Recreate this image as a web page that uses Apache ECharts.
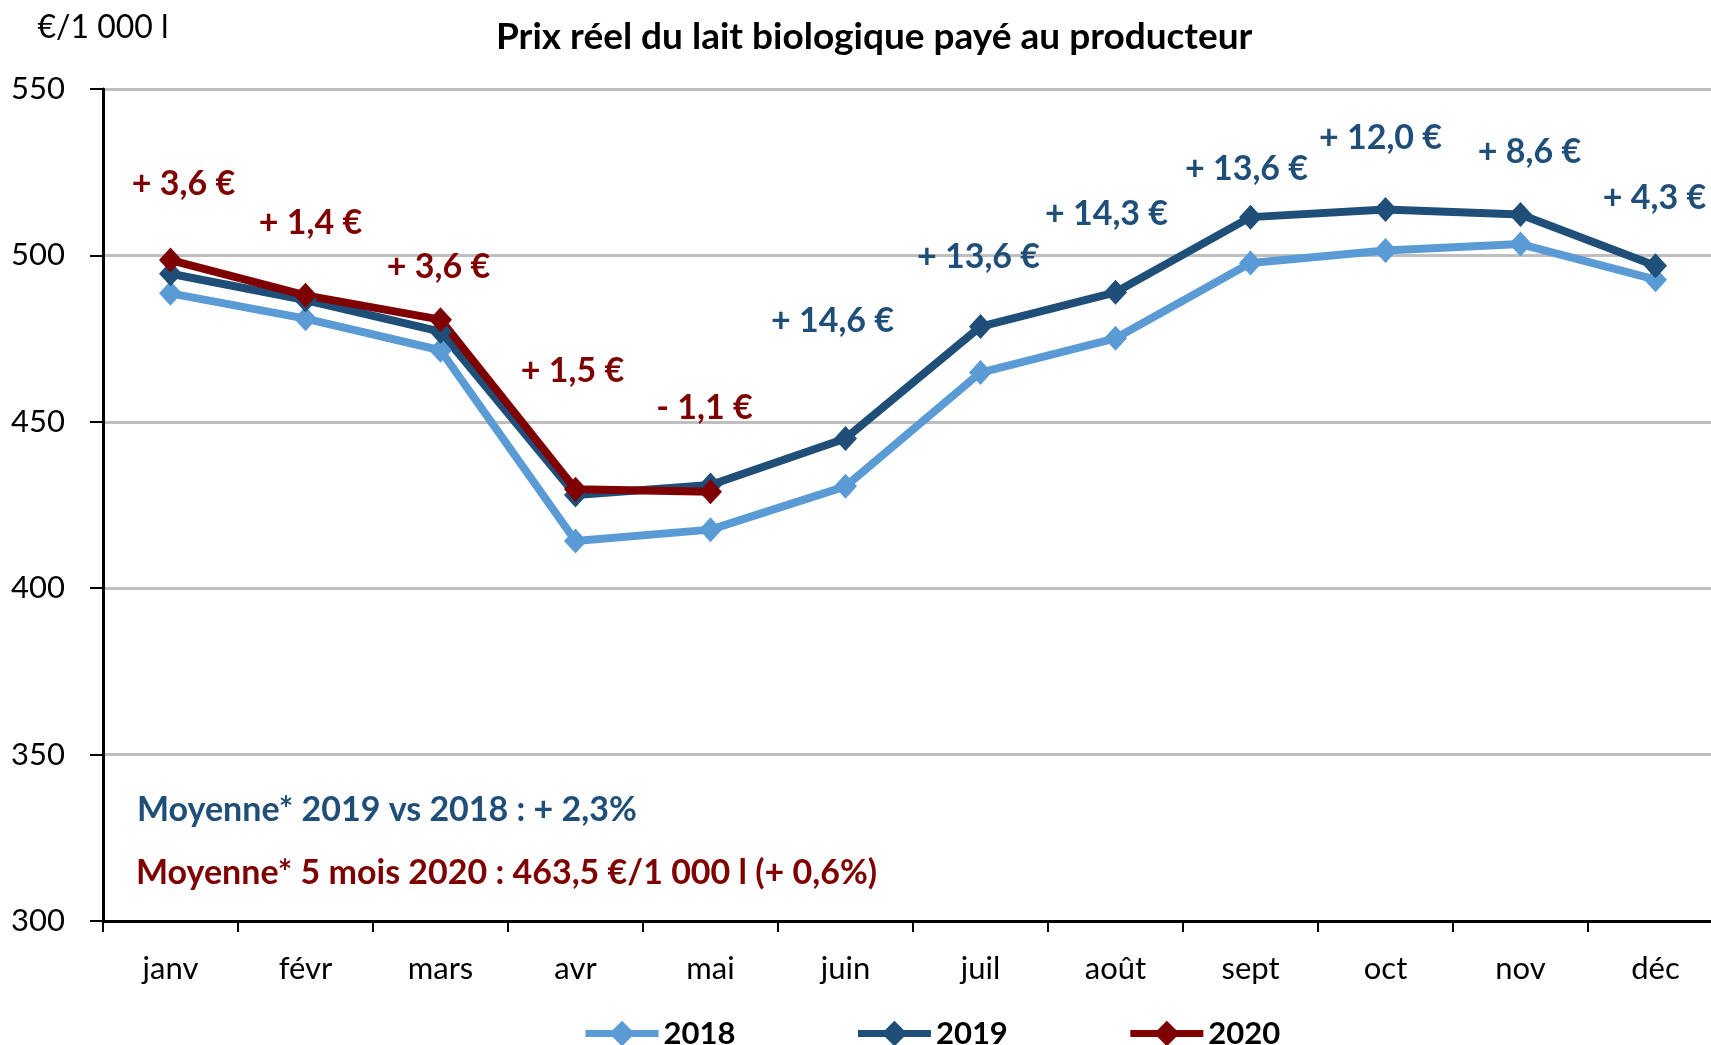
<!DOCTYPE html>
<html style="height: 100%">
<head>
    <meta charset="utf-8">
</head>
<body style="height: 100%; margin: 0">
<div id="container" style="height: 100%"></div>
<script type="text/javascript" src="https://cdn.jsdelivr.net/npm/echarts@6/dist/echarts.min.js"></script>
<script type="text/javascript">
    var months = ['janv', 'févr', 'mars', 'avr', 'mai', 'juin', 'juil', 'août', 'sept', 'oct', 'nov', 'déc'];
    var values2018 = [488.6, 481.0, 471.5, 414.2, 417.6, 430.6, 464.8, 475.1, 497.7, 501.5, 503.4, 492.7];
    var values2019 = [494.5, 486.6, 477.1, 428.0, 431.0, 445.0, 478.6, 488.9, 511.5, 513.8, 512.3, 496.9];
    var values2020 = [498.6, 488.0, 480.7, 429.7, 429.0];
    // écarts affichés au-dessus des points
    var diff2020 = ['+ 3,6 €', '+ 1,4 €', '+ 3,6 €', '+ 1,5 €', '- 1,1 €'];
    var diff2019 = [null, null, null, null, null, '+ 14,6 €', '+ 13,6 €', '+ 14,3 €', '+ 13,6 €', '+ 12,0 €', '+ 8,6 €', '+ 4,3 €'];
    var yTicks = [300, 350, 400, 450, 500, 550];

    // placement des étiquettes (pixels, relatif au point)
    var off2020 = [[13, -76], [5, -72], [-2, -53], [-3, -118], [-6, -84]];
    var off2019 = [null, null, null, null, null, [-13, -117], [-2, -70], [-9, -78], [-4, -48], [-5, -71], [9, -62], [-1, -68]];

    var FONT = 'Lato';
    var C18 = '#5B9BD5', C19 = '#1F4E79', C20 = '#7F0000';

    function withLabels(values, texts, offsets, color) {
        return values.map(function (v, i) {
            if (!texts[i]) return v;
            return {
                value: v,
                label: {
                    show: true,
                    position: 'inside',
                    offset: offsets[i],
                    formatter: texts[i],
                    color: color,
                    fontFamily: FONT,
                    fontWeight: 'bold',
                    fontSize: 34
                }
            };
        });
    }

    var dom = document.getElementById('container');
    var myChart = echarts.init(dom);

    function lineSeries(name, data, color) {
        return {
            name: name,
            type: 'line',
            data: data,
            symbol: 'diamond',
            symbolSize: [23, 25],
            showAllSymbol: true,
            lineStyle: { color: color, width: 8 },
            itemStyle: { color: color },
            label: { show: false },
            emphasis: { disabled: true },
            animation: false
        };
    }

    var option = {
        backgroundColor: '#fff',
        title: {
            text: 'Prix réel du lait biologique payé au producteur',
            left: 491,
            top: 14,
            textStyle: { fontFamily: FONT, fontWeight: 'bold', fontSize: 37, color: '#000' }
        },
        legend: {
            left: 577,
            top: 1013,
            itemWidth: 73,
            itemHeight: 32,
            itemGap: 119,
            lineStyle: { width: 7 },
            textStyle: { fontFamily: FONT, fontWeight: 'bold', fontSize: 31, color: '#000' },
            data: ['2018', '2019', '2020']
        },
        grid: {
            left: 103,
            top: 89,
            width: 1620,
            height: 832,
            outerBoundsMode: 'none'
        },
        xAxis: {
            type: 'category',
            data: months,
            boundaryGap: true,
            axisLine: { lineStyle: { color: '#000', width: 3 } },
            axisTick: { show: true, length: 11, lineStyle: { color: '#000', width: 2 } },
            axisLabel: { fontFamily: FONT, fontSize: 31, color: '#000', margin: 32 }
        },
        yAxis: {
            type: 'value',
            min: yTicks[0],
            max: yTicks[yTicks.length - 1],
            interval: 50,
            name: '€/1 000 l',
            nameLocation: 'end',
            nameGap: 45,
            nameTextStyle: { fontFamily: FONT, fontSize: 32, color: '#000' },
            axisLine: { show: true, lineStyle: { color: '#000', width: 3 } },
            axisTick: { show: true, length: 13, lineStyle: { color: '#000', width: 2 } },
            axisLabel: { fontFamily: FONT, fontSize: 31, color: '#000', margin: 38 },
            splitLine: { lineStyle: { color: '#BFBFBF', width: 3 } }
        },
        graphic: [
            {
                type: 'text', left: 137, top: 793,
                style: { text: 'Moyenne* 2019 vs 2018 : + 2,3%', fill: C19, font: 'bold 34px ' + FONT }
            },
            {
                type: 'text', left: 136, top: 856,
                style: { text: 'Moyenne* 5 mois 2020 : 463,5 €/1 000 l (+ 0,6%)', fill: C20, font: 'bold 34px ' + FONT }
            }
        ],
        series: [
            lineSeries('2018', values2018, C18),
            lineSeries('2019', withLabels(values2019, diff2019, off2019, C19), C19),
            lineSeries('2020', withLabels(values2020, diff2020, off2020, C20), C20)
        ]
    };
    myChart.setOption(option, true);
</script>
</body>
</html>
